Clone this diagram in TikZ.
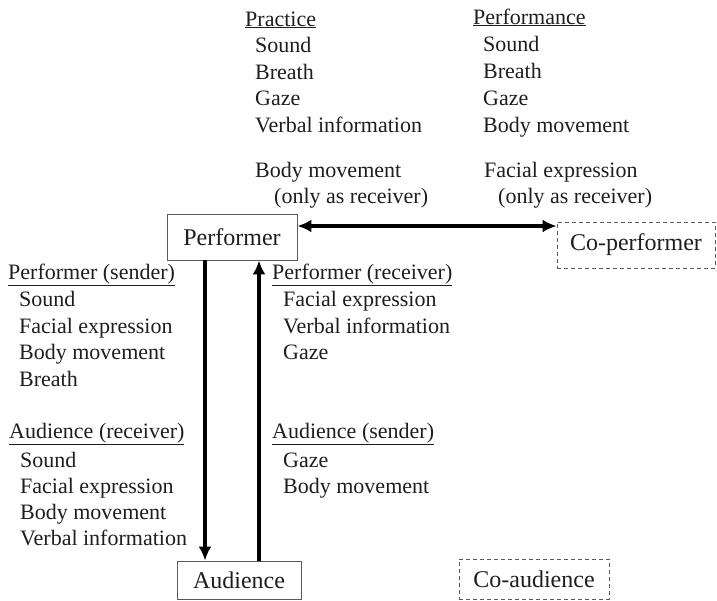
\documentclass[tikz,border=0pt]{standalone}
\usepackage{fontspec}
\setmainfont{Liberation Serif}
\usetikzlibrary{arrows.meta,calc}
\definecolor{BoxGray}{HTML}{5A5A5A}
\definecolor{InkDark}{HTML}{1E1E1E}
\tikzset{
    head/.style = {anchor=base west, inner sep=0pt, text=InkDark,
        font=\fontsize{22}{26}\selectfont},
    item/.style = {head},
    actor/.style = {draw=BoxGray, line width=.9pt, inner sep=0pt,
        text=InkDark, font=\fontsize{24}{28}\selectfont},
    other/.style = {actor, dash pattern=on 4pt off 3pt},
    flow/.style = {-{Latex[length=14pt,width=13pt]}, line width=3.6pt, black},
    twoway/.style = {{Latex[length=14pt,width=13pt]}-{Latex[length=14pt,width=13pt]}, line width=3.6pt, black}
}

\begin{document}
\begin{tikzpicture}[x=1pt,y=-1pt]
            \useasboundingbox (0,0) rectangle (717,600);
            % the four parties
            \node[actor, minimum width=130pt, minimum height=46pt] (perf) at (232,237) {Performer};
            \node[other, minimum width=158pt, minimum height=46pt] (coperf) at (636,245) {Co-performer};
            \node[actor, minimum width=124pt, minimum height=38pt] (aud) at (239,580) {Audience};
            \node[other, minimum width=150pt, minimum height=40pt] (coaud) at (534,579) {Co-audience};
            % connections
            \coordinate (lvl) at (0,226);
            \coordinate (dn) at (205,0);
            \coordinate (up) at (259,0);
            \draw[twoway] (perf.east |- lvl) -- (coperf.west |- lvl);
            \draw[flow] (perf.south -| dn) -- (aud.north -| dn);
            \draw[flow] (aud.north -| up) -- (perf.south -| up);
            % practice
            \node[head] (prac) at (245,26) {\underline{Practice}};
            \foreach \txt [count=\i] in {Sound,Breath,Gaze,Verbal information}
                \node[item] (prac-\i) at (255,26+26.5*\i) {\txt};
            \node[item] (prac-body) at (255,177) {Body movement};
            \node[item] (prac-recv) at (274,203) {(only as receiver)};
            % performance
            \node[head] (perfm) at (473,24) {\underline{Performance}};
            \foreach \txt [count=\i] in {Sound,Breath,Gaze,Body movement}
                \node[item] (perfm-\i) at (483,25+26.8*\i) {\txt};
            \node[item] (perfm-face) at (484,177) {Facial expression};
            \node[item] (perfm-recv) at (498,203) {(only as receiver)};
            % performer as sender / audience as receiver
            \node[head] (psend) at (8,279) {\underline{Performer (sender)}};
            \foreach \txt [count=\i] in {Sound,Facial expression,Body movement,Breath}
                \node[item] (psend-\i) at (19,280+26.5*\i) {\txt};
            \node[head] (arecv) at (9,438) {\underline{Audience (receiver)}};
            \foreach \txt [count=\i] in {Sound,Facial expression,Body movement,Verbal information}
                \node[item] (arecv-\i) at (20,441+26.2*\i) {\txt};
            % performer as receiver / audience as sender
            \node[head] (precv) at (272,279) {\underline{Performer (receiver)}};
            \foreach \txt [count=\i] in {Facial expression,Verbal information,Gaze}
                \node[item] (precv-\i) at (283,280+26.5*\i) {\txt};
            \node[head] (asend) at (272,438) {\underline{Audience (sender)}};
            \foreach \txt [count=\i] in {Gaze,Body movement}
                \node[item] (asend-\i) at (283,441+26.2*\i) {\txt};
            \end{tikzpicture}
\end{document}
